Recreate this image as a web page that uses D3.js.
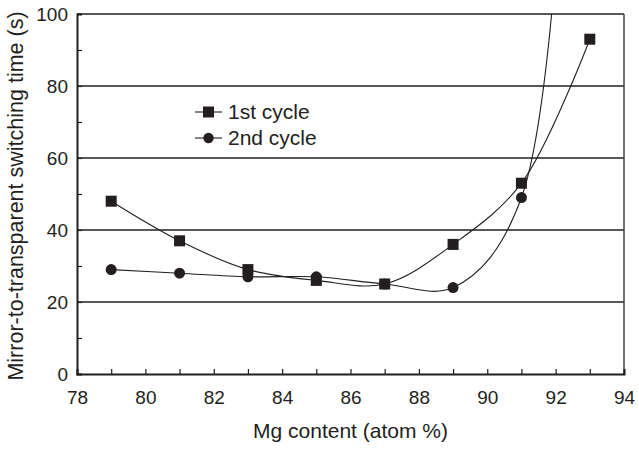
<!DOCTYPE html>
<html lang="en">
<head>
    <meta charset="UTF-8">
    <title>Mg content vs switching time</title>
    <style>
        body {
            margin: 0;
            background: #FFFFFF;
        }
        text {
            font-family: "Liberation Sans", Arial, Helvetica, sans-serif;
            fill: #231f20;
        }
    </style>
</head>
<body>
<div id="chart"></div>
</body>
<script src="https://d3js.org/d3.v7.min.js"></script>
<script>
    // data
    const mgContent = [79, 81, 83, 85, 87, 89, 91, 93];
    const firstCycle = [48, 37, 29, 26, 25, 36, 53, 93];
    // last value is off the top of the chart, the curve gets clipped
    const secondCycle = [29, 28, 27, 27, 25, 24, 49, 450];
    const secondShown = 7; // markers drawn for the first 7 points only
    const xTicks = d3.range(78, 95, 1);
    const yTicks = d3.range(0, 101, 10);
    const gridValues = [20, 40, 60, 80];

    const W = 639, H = 449;
    const margin = {top: 14, right: 15, bottom: 75, left: 77},
        width = W - margin.left - margin.right,
        height = H - margin.top - margin.bottom;
    const ink = "#231f20";

    const svg = d3.select("#chart")
        .append("svg")
        .attr("width", W)
        .attr("height", H);

    const g = svg.append("g")
        .attr("transform", `translate(${margin.left},${margin.top})`);

    const x = d3.scaleLinear().domain([78, 94]).range([0, width]);
    const y = d3.scaleLinear().domain([0, 100]).range([height, 0]);

    g.append("clipPath").attr("id", "plotClip")
        .append("rect")
        .attr("x", 0).attr("y", 0)
        .attr("width", width).attr("height", height);

    // horizontal grid lines
    g.selectAll(".grid")
        .data(gridValues)
        .join("line")
        .attr("class", "grid")
        .attr("x1", 0).attr("x2", width)
        .attr("y1", d => y(d)).attr("y2", d => y(d))
        .attr("stroke", ink)
        .attr("stroke-width", 1.5);

    // frame top + right
    g.append("line")
        .attr("x1", 0).attr("x2", width)
        .attr("y1", 0).attr("y2", 0)
        .attr("stroke", ink).attr("stroke-width", 1.5);
    g.append("line")
        .attr("x1", width).attr("x2", width)
        .attr("y1", 0).attr("y2", height)
        .attr("stroke", "#444").attr("stroke-width", 1.5);

    // axes
    const xAxis = g.append("g")
        .attr("transform", `translate(0,${height})`)
        .call(d3.axisBottom(x)
            .tickValues(xTicks)
            .tickFormat(d => d % 2 === 0 ? d : "")
            .tickSize(-5)
            .tickPadding(17));
    const yAxis = g.append("g")
        .call(d3.axisLeft(y)
            .tickValues(yTicks)
            .tickFormat(d => d % 20 === 0 ? d : "")
            .tickSize(-5)
            .tickPadding(9));

    [xAxis, yAxis].forEach(ax => {
        ax.select(".domain").attr("stroke", ink).attr("stroke-width", 2);
        ax.selectAll(".tick line").attr("stroke", ink).attr("stroke-width", 1.2);
        ax.selectAll(".tick text")
            .style("font-size", "19px")
            .attr("fill", ink);
    });

    // axis titles
    svg.append("text")
        .attr("x", margin.left + width / 2)
        .attr("y", 438)
        .attr("text-anchor", "middle")
        .style("font-size", "21px")
        .text("Mg content (atom %)");

    svg.append("text")
        .attr("transform", `translate(23,${margin.top + height / 2 + 2}) rotate(-90)`)
        .attr("text-anchor", "middle")
        .style("font-size", "21.5px")
        .text("Mirror-to-transparent switching time (s)");

    // smooth lines
    const line = d3.line()
        .curve(d3.curveCatmullRom.alpha(0.5))
        .x(d => x(d[0]))
        .y(d => y(d[1]));

    const first = mgContent.map((m, i) => [m, firstCycle[i]]);
    const second = mgContent.map((m, i) => [m, secondCycle[i]]);

    const lines = g.append("g").attr("clip-path", "url(#plotClip)");
    lines.append("path")
        .datum(first)
        .attr("d", line)
        .attr("fill", "none")
        .attr("stroke", ink)
        .attr("stroke-width", 1.1);
    lines.append("path")
        .datum(second)
        .attr("d", line)
        .attr("fill", "none")
        .attr("stroke", ink)
        .attr("stroke-width", 1.1);

    // markers
    g.selectAll(".dot2")
        .data(second.slice(0, secondShown))
        .join("circle")
        .attr("class", "dot2")
        .attr("cx", d => x(d[0]))
        .attr("cy", d => y(d[1]))
        .attr("r", 5.5)
        .attr("fill", ink);

    const sq = 11;
    g.selectAll(".dot1")
        .data(first)
        .join("rect")
        .attr("class", "dot1")
        .attr("x", d => x(d[0]) - sq / 2)
        .attr("y", d => y(d[1]) - sq / 2)
        .attr("width", sq)
        .attr("height", sq)
        .attr("fill", ink);

    // legend
    const legend = svg.append("g").attr("transform", "translate(195,112)");
    const items = [
        {label: "1st cycle", shape: "square"},
        {label: "2nd cycle", shape: "circle"}
    ];
    items.forEach((it, i) => {
        const row = legend.append("g").attr("transform", `translate(0,${i * 26})`);
        row.append("line")
            .attr("x1", 0).attr("x2", 27)
            .attr("y1", 0).attr("y2", 0)
            .attr("stroke", ink).attr("stroke-width", 1.1);
        if (it.shape === "square") {
            row.append("rect")
                .attr("x", 13.5 - 5.5).attr("y", -5.5)
                .attr("width", 11).attr("height", 11)
                .attr("fill", ink);
        } else {
            row.append("circle")
                .attr("cx", 13.5).attr("cy", 0)
                .attr("r", 5.2)
                .attr("fill", ink);
        }
        row.append("text")
            .attr("x", 33)
            .attr("y", 0)
            .attr("dy", "0.35em")
            .style("font-size", "21px")
            .text(it.label);
    });
</script>
</html>
